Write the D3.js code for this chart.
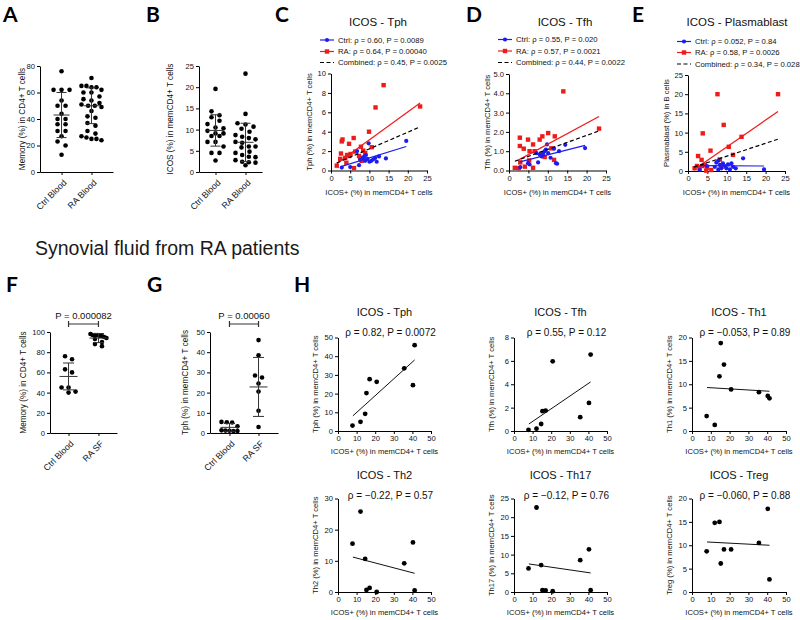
<!DOCTYPE html>
<html>
<head>
<meta charset="utf-8">
<script src="https://cdn.jsdelivr.net/npm/d3@7"></script>
<style>
html,body{margin:0;padding:0;background:#fff;}
</style>
</head>
<body>
<svg id="chart" width="800" height="620"></svg>
<script>
// ================= DATA =================
const bloodCats = ["Ctrl Blood", "RA Blood"];
const memoryCtrl = [76,62,62,62,54,50,50,44,40,40,36,36,31,31,27,23,20,13];
const memoryRA = [71,65,65,64,64,62,60,60,57,55,54,52,51,50,50,49,46,42,41,37,35,31,29,27,26,25,25,24];
const memoryMeanSD = [[43,17],[50,13.5]];
const memoryTicks = [0,20,40,60,80];

const icosCtrl = [19.6,14.3,13.4,12.9,12.1,11.3,10.5,10.3,9.7,9.1,9.1,8.5,8.5,7.1,7.1,6.0,4.5,4.5,2.7];
const icosRA = [23.2,13.7,11.5,11.2,10.7,10.2,9.5,8.7,8.3,8.0,7.7,7.1,6.9,6.0,6.0,5.8,4.8,4.5,4.0,3.6,3.5,2.8,2.4,2.3,2.2,1.6];
const icosMeanSD = [[9.8,3.7],[7.0,4.5]];
const icosTicks = [0,5,10,15,20,25];

// C: ICOS vs Tph  [ICOS+, Tph]
const tphCtrl = [[2.8,0.3],[5.0,0.35],[6.8,2.0],[7.3,0.55],[7.6,1.1],[8.3,1.3],[8.6,1.4],[8.9,1.0],[9.1,1.6],[9.5,1.2],[9.8,2.8],[10.0,0.9],[10.5,1.0],[11.0,1.15],[11.5,1.3],[11.9,0.9],[12.5,1.45],[14.3,1.25],[19.6,3.05]];
const tphRA = [[1.5,0.5],[2.4,1.2],[2.6,1.75],[2.8,3.0],[3.0,3.2],[3.7,1.3],[4.0,0.8],[4.2,1.6],[4.7,2.75],[4.8,1.5],[5.1,1.7],[5.9,3.35],[6.0,0.25],[6.3,1.95],[7.3,1.5],[7.6,1.3],[7.8,2.45],[8.0,1.0],[8.4,2.05],[8.9,1.8],[9.9,4.0],[10.6,2.4],[11.6,6.5],[13.7,8.8],[23.2,6.6]];
const tphFits = [[[2.8,0.42],[19.6,2.47]], [[1.5,0.72],[23.2,6.95]], [[1.5,0.78],[23.2,4.5]]];
const tphLegend = ["Ctrl: \u03c1 = 0.60, P = 0.0089", "RA: \u03c1 = 0.64, P = 0.00040", "Combined: \u03c1 = 0.45, P = 0.0025"];
const tphTicks = [0,2,4,6,8,10];

// D: ICOS vs Tfh
const tfhCtrl = [[2.9,0.17],[4.9,0.38],[5.3,0.31],[7.1,0.9],[7.5,0.42],[7.9,0.83],[8.4,0.73],[8.8,0.87],[9.2,1.0],[9.5,1.08],[9.8,1.35],[10.1,0.9],[10.7,0.66],[11.6,1.13],[12.1,0.38],[12.4,0.35],[12.9,1.0],[14.5,1.33],[19.6,1.16]];
const tfhRA = [[1.5,0.14],[2.5,0.12],[2.8,1.7],[2.8,1.27],[2.9,0.42],[3.8,1.13],[4.1,0.2],[4.9,1.6],[5.2,0.52],[5.3,1.0],[6.2,1.35],[6.2,0.14],[6.6,1.0],[7.9,1.6],[8.4,0.83],[8.6,1.77],[9.2,0.7],[10.1,1.94],[10.9,1.15],[11.6,0.55],[11.8,1.77],[14.0,4.1],[23.2,2.17]];
const tfhFits = [[[2.8,0.45],[19.6,1.3]], [[2.5,0.55],[23.2,2.8]], [[1.5,0.48],[23.2,2.05]]];
const tfhLegend = ["Ctrl: \u03c1 = 0.55, P = 0.020", "RA: \u03c1 = 0.57, P = 0.0021", "Combined: \u03c1 = 0.44, P = 0.0022"];
const tfhTicks = [0,1,2,3,4,5];

// E: ICOS vs Plasmablast
const pbCtrl = [[3.0,0.26],[4.9,1.3],[6.9,1.1],[7.3,2.2],[7.8,2.7],[7.8,0.4],[8.2,1.6],[8.6,0.7],[9.0,2.0],[9.5,1.3],[9.9,0.7],[10.3,1.7],[10.8,0.4],[11.2,2.0],[11.6,1.1],[12.3,0.7],[14.2,3.3],[19.6,0.4]];
const pbRA = [[1.7,0.7],[2.3,1.3],[2.6,3.9],[3.0,0.7],[3.5,2.9],[3.7,1.3],[3.8,9.8],[4.3,1.6],[4.7,0.1],[4.9,0.9],[5.8,5.3],[6.0,0.26],[7.6,20],[8.2,3.0],[8.6,1.1],[9.2,12],[10.5,6.3],[11.6,4.2],[13.8,8.9],[23.2,20]];
const pbFits = [[[3.0,1.4],[19.6,1.3]], [[1.5,0.3],[23.2,15.5]], [[1.5,1.0],[23.2,8.3]]];
const pbLegend = ["Ctrl: \u03c1 = 0.052, P = 0.84", "RA: \u03c1 = 0.58, P = 0.0026", "Combined: \u03c1 = 0.34, P = 0.028"];
const pbTicks = [0,5,10,15,20,25];
const corrXTicks = [0,5,10,15,20,25];

// F, G: synovial fluid
const sfCats = ["Ctrl Blood", "RA SF"];
const sfMemoryCtrl = [76,73,63,60,45,45,41,40];
const sfMemoryRA = [98,97,97,97,96,96,95,94,93,90,88,86];
const sfMemoryMeanSD = [[56,13.3],[94,4.5]];
const sfMemoryTicks = [0,20,40,60,80,100];
const sfMemoryP = "P = 0.000082";
const sfTphCtrl = [5.5,5.3,5.2,3.3,1.3,1.2,1.1,1.0,1.0];
const sfTphRA = [46,38.5,28.5,27.5,24.5,20.5,11,3];
const sfTphMeanSD = [[2.8,1.9],[22.8,14.6]];
const sfTphTicks = [0,10,20,30,40,50];
const sfTphP = "P = 0.00060";

// H: ICOS+ in SF vs subsets
const sfIcos = [7.8,12.1,14.6,15.3,17,20.8,35.6,40.3,41.2];
const hTitles = ["ICOS - Tph","ICOS - Tfh","ICOS - Th1","ICOS - Th2","ICOS - Th17","ICOS - Treg"];
const hYLabels = ["Tph (%) in memCD4+ T cells","Tfh (%) in memCD4+ T cells","Th1 (%) in memCD4+ T cells","Th2 (%) in memCD4+ T cells","Th17 (%) in memCD4+ T cells","Treg (%) in memCD4+ T cells"];
const hValues = [
  [2.9,4.9,9.2,20.3,27.7,26.3,33.5,24.5,45.9],
  [0.1,0.2,0.6,1.7,1.75,5.96,1.18,2.4,6.54],
  [3.2,1.3,11.7,18.8,14.2,8.9,8.3,7.5,7.0],
  [15.5,25.8,10.6,0.65,1.3,0,9.2,15.9,0.5],
  [6.3,22.6,7.2,0.5,0.4,0.2,8.5,11.4,0.5],
  [8.7,14.8,15,6.1,9.1,9.1,10.5,17.8,2.7]
];
const hFits = [[[8,8.1],[41.2,38]],[[8,0.6],[41.2,4.2]],[[8,9.3],[41.2,8.5]],[[8,11.2],[41.2,6.0]],[[8,7.5],[41.2,5.1]],[[8,10.7],[41.2,10.0]]];
const hStats = ["\u03c1 = 0.82, P = 0.0072","\u03c1 = 0.55, P = 0.12","\u03c1 = \u22120.053, P = 0.89","\u03c1 = \u22120.22, P = 0.57","\u03c1 = \u22120.12, P = 0.76","\u03c1 = \u22120.060, P = 0.88"];
const hYTicks = [[0,10,20,30,40,50],[0,2,4,6,8],[0,5,10,15,20],[0,10,20,30],[0,5,10,15,20,25],[0,5,10,15,20]];
const hXTicks = [0,10,20,30,40,50];

// ================= DRAWING =================
const FONT = "'Liberation Sans', Arial, Helvetica, sans-serif";
const LETTER_FONT = "Lato, 'Open Sans', 'Liberation Sans', sans-serif";
const BLUE = "#1c1cf2", RED = "#ee1b1b";
const svg = d3.select("#chart");

function txt(x, y, s, size, o = {}) {
  const t = svg.append("text").attr("x", x).attr("y", y).text(s)
    .attr("font-size", size).attr("font-family", o.family || FONT).attr("fill", o.fill || "#111");
  if (o.anchor) t.attr("text-anchor", o.anchor);
  if (o.weight) t.attr("font-weight", o.weight);
  if (o.rotate) t.attr("transform", `rotate(-90,${x},${y})`);
  return t;
}
function styleAxis(g, fs) {
  g.attr("font-family", null).attr("font-size", null);
  g.select(".domain").attr("stroke", "#000").attr("stroke-width", 1);
  g.selectAll(".tick line").attr("stroke", "#000");
  g.selectAll(".tick text").attr("font-family", FONT).attr("font-size", fs || 7.6).attr("fill", "#111");
  return g;
}
function leftAxis(x0, y, ticks, fs) {
  return styleAxis(svg.append("g").attr("transform", `translate(${x0},0)`)
    .call(d3.axisLeft(y).tickValues(ticks).tickSize(3).tickSizeOuter(0).tickPadding(2)), fs);
}
function bottomAxis(y0, x, ticks, fs) {
  const ax = d3.axisBottom(x).tickSize(3).tickSizeOuter(0).tickPadding(2);
  if (ticks) ax.tickValues(ticks);
  return styleAxis(svg.append("g").attr("transform", `translate(0,${y0})`).call(ax), fs);
}
function swarm(vals, y, binH, sp, half) {
  const pts = vals.map(v => ({ v, py: y(v) })).sort((a, b) => a.py - b.py);
  const rows = []; let cur = null;
  pts.forEach(p => {
    if (!cur || p.py - cur.start > binH) { cur = { start: p.py, pts: [] }; rows.push(cur); }
    cur.pts.push(p);
  });
  rows.forEach(r => {
    const n = r.pts.length;
    const s = n > 1 ? Math.min(sp, 2 * half / (n - 1)) : 0;
    r.pts.forEach((p, i) => p.dx = (i - (n - 1) / 2) * s);
  });
  return pts;
}

function columnPanel(L, cats, groups, meanSD, ticks, ylabel, pLabel) {
  const y = d3.scaleLinear().domain([0, ticks[ticks.length - 1]]).range([L.yBot, L.yTop]);
  const x = d3.scalePoint().domain(cats).range([L.x0, L.x1]).padding(L.pad);
  leftAxis(L.x0, y, ticks, 7.6);
  const gx = bottomAxis(L.yBot, x, null, 8.8);
  gx.selectAll(".tick text").attr("y", 0).attr("dy", "0.35em").attr("text-anchor", "end")
    .attr("transform", "translate(3,9) rotate(-45)");
  groups.forEach((vals, gi) => {
    const cx = x(cats[gi]);
    const pts = swarm(vals, y, L.binH, L.sp, L.half);
    svg.append("g").selectAll("circle").data(pts).join("circle")
      .attr("cx", d => cx + d.dx).attr("cy", d => d.py).attr("r", L.r).attr("fill", "#000");
    const [m, s] = meanSD[gi];
    const lo = Math.max(0, m - s), hi = m + s;
    const eb = svg.append("g").attr("stroke", "#333").attr("stroke-width", 1);
    eb.append("line").attr("x1", cx).attr("x2", cx).attr("y1", y(lo)).attr("y2", y(hi));
    eb.append("line").attr("x1", cx - L.meanW).attr("x2", cx + L.meanW).attr("y1", y(m)).attr("y2", y(m));
    [lo, hi].forEach(v => eb.append("line").attr("x1", cx - L.capW).attr("x2", cx + L.capW).attr("y1", y(v)).attr("y2", y(v)));
  });
  txt(L.x0 + L.ylabDx, (L.yTop + L.yBot) / 2, ylabel, 8.2, { anchor: "middle", rotate: true });
  if (pLabel) {
    const a = x(cats[0]), b = x(cats[1]);
    svg.append("path").attr("d", `M${a},${L.brY - 3}V${L.brY + 3}M${a},${L.brY}H${b}M${b},${L.brY - 3}V${L.brY + 3}`)
      .attr("fill", "none").attr("stroke", "#333").attr("stroke-width", 1.2);
    txt((a + b) / 2, L.brY - 5.5, pLabel, 9.5, { anchor: "middle" });
  }
}

function corrPanel(L, ctrl, ra, fits, legend, title, ylabel, yTicks) {
  const x = d3.scaleLinear().domain([0, 25]).range([L.x0, L.x1]);
  const y = d3.scaleLinear().domain([0, yTicks[yTicks.length - 1]]).range([L.yBot, L.yTop]);
  leftAxis(L.x0, y, yTicks);
  bottomAxis(L.yBot, x, corrXTicks);
  svg.append("g").selectAll("rect").data(ra).join("rect")
    .attr("x", d => x(d[0]) - 2.2).attr("y", d => y(d[1]) - 2.2).attr("width", 4.4).attr("height", 4.4).attr("fill", RED);
  svg.append("g").selectAll("circle").data(ctrl).join("circle")
    .attr("cx", d => x(d[0])).attr("cy", d => y(d[1])).attr("r", 2.1).attr("fill", BLUE);
  const line = d3.line().x(d => x(d[0])).y(d => y(d[1]));
  const styles = [{ c: BLUE, dash: null }, { c: RED, dash: null }, { c: "#000", dash: "4,2.5" }];
  fits.forEach((f, i) => {
    svg.append("path").attr("d", line(f)).attr("fill", "none").attr("stroke", styles[i].c)
      .attr("stroke-width", 1.2).attr("stroke-dasharray", styles[i].dash);
  });
  legend.forEach((s, i) => {
    const ly = L.legY[i], a = L.x0 - 11, b = L.x0 + 3, mid = (a + b) / 2;
    svg.append("line").attr("x1", a).attr("x2", b).attr("y1", ly).attr("y2", ly)
      .attr("stroke", styles[i].c).attr("stroke-width", 1.2).attr("stroke-dasharray", styles[i].dash);
    if (i === 0) svg.append("circle").attr("cx", mid).attr("cy", ly).attr("r", 2.1).attr("fill", BLUE);
    if (i === 1) svg.append("rect").attr("x", mid - 2.2).attr("y", ly - 2.2).attr("width", 4.4).attr("height", 4.4).attr("fill", RED);
    txt(L.x0 + 7, ly + 2.7, s, 7.7);
  });
  txt(L.titleX, 26, title, 11.5, { anchor: "middle" });
  txt((L.x0 + L.x1) / 2, 195, "ICOS+ (%) in memCD4+ T cells", 7.6, { anchor: "middle" });
  txt(L.x0 - 19, (L.yTop + L.yBot) / 2, ylabel, 7.6, { anchor: "middle", rotate: true });
}

function hPanel(i, L) {
  const x = d3.scaleLinear().domain([0, 50]).range([L.x0, L.x1]);
  const t = hYTicks[i];
  const y = d3.scaleLinear().domain([0, t[t.length - 1]]).range([L.yBot, L.yTop]);
  leftAxis(L.x0, y, t);
  bottomAxis(L.yBot, x, hXTicks);
  svg.append("path").attr("d", d3.line().x(d => x(d[0])).y(d => y(d[1]))(hFits[i]))
    .attr("fill", "none").attr("stroke", "#111").attr("stroke-width", 1);
  svg.append("g").selectAll("circle").data(sfIcos.map((v, k) => [v, hValues[i][k]])).join("circle")
    .attr("cx", d => x(d[0])).attr("cy", d => y(d[1])).attr("r", 2.4).attr("fill", "#000");
  const cx = (L.x0 + L.x1) / 2;
  txt(cx, L.titleY, hTitles[i], 11, { anchor: "middle" });
  txt(cx + 6, L.statY, hStats[i], 10, { anchor: "middle" });
  txt(cx, L.xlabY, "ICOS+ (%) in memCD4+ T cells", 7.6, { anchor: "middle" });
  txt(L.x0 - 20, (L.yTop + L.yBot) / 2, hYLabels[i], 7.6, { anchor: "middle", rotate: true });
}

// ---- panel letters & section title ----
[["A", 3, 22], ["B", 146, 22], ["C", 275, 22], ["D", 466, 22], ["E", 632, 22],
 ["F", 6, 292], ["G", 147, 292], ["H", 294, 292]].forEach(([s, x, y]) =>
  txt(x, y, s, 21, { family: LETTER_FONT, weight: 700, fill: "#000" }));
txt(35, 255, "Synovial fluid from RA patients", 19.5, { fill: "#1a1a1a" });

// ---- A, B ----
const colStyle = { binH: 4.8, sp: 8, half: 10, r: 2.3, meanW: 8, capW: 5 };
columnPanel(Object.assign({ x0: 40, x1: 113, yTop: 66, yBot: 172, pad: 0.72, ylabDx: -15 }, colStyle),
  bloodCats, [memoryCtrl, memoryRA], memoryMeanSD, memoryTicks, "Memory (%) in CD4+ T cells");
columnPanel(Object.assign({ x0: 199, x1: 262, yTop: 66, yBot: 172, pad: 0.55, ylabDx: -26 }, colStyle),
  bloodCats, [icosCtrl, icosRA], icosMeanSD, icosTicks, "ICOS (%) in memCD4+ T cells");

// ---- C, D, E ----
corrPanel({ x0: 331, x1: 427, yTop: 73.5, yBot: 170.5, titleX: 378, legY: [40, 51.5, 62.5] },
  tphCtrl, tphRA, tphFits, tphLegend, "ICOS - Tph", "Tph (%) in memCD4+ T cells", tphTicks);
corrPanel({ x0: 509, x1: 606, yTop: 74, yBot: 170.5, titleX: 565, legY: [39.5, 51, 62.5] },
  tfhCtrl, tfhRA, tfhFits, tfhLegend, "ICOS - Tfh", "Tfh (%) in memCD4+ T cells", tfhTicks);
corrPanel({ x0: 688, x1: 785, yTop: 75, yBot: 171, titleX: 737, legY: [41.5, 52.5, 64] },
  pbCtrl, pbRA, pbFits, pbLegend, "ICOS - Plasmablast", "Plasmablast (%) in B cells", pbTicks);

// ---- F, G ----
const sfStyle = { binH: 4.8, sp: 7, half: 8, r: 2.3, meanW: 9, capW: 5.5, brY: 324 };
columnPanel(Object.assign({ x0: 50, x1: 117, yTop: 332, yBot: 433, pad: 0.62, ylabDx: -24 }, sfStyle),
  sfCats, [sfMemoryCtrl, sfMemoryRA], sfMemoryMeanSD, sfMemoryTicks, "Memory (%) in CD4+ T cells", sfMemoryP);
columnPanel(Object.assign({ x0: 210, x1: 278, yTop: 332, yBot: 433, pad: 0.67, ylabDx: -22 }, sfStyle),
  sfCats, [sfTphCtrl, sfTphRA], sfTphMeanSD, sfTphTicks, "Tph (%) in memCD4+ T cells", sfTphP);

// ---- H ----
const hCols = [[338, 431], [514, 607], [692, 786]];
const hRows = [{ yTop: 337.5, yBot: 431, titleY: 316, statY: 336, xlabY: 454 },
               { yTop: 498.5, yBot: 592, titleY: 479, statY: 499, xlabY: 615 }];
hTitles.forEach((_, i) => {
  const c = hCols[i % 3], r = hRows[Math.floor(i / 3)];
  hPanel(i, Object.assign({ x0: c[0], x1: c[1] }, r));
});
</script>
</body>
</html>
